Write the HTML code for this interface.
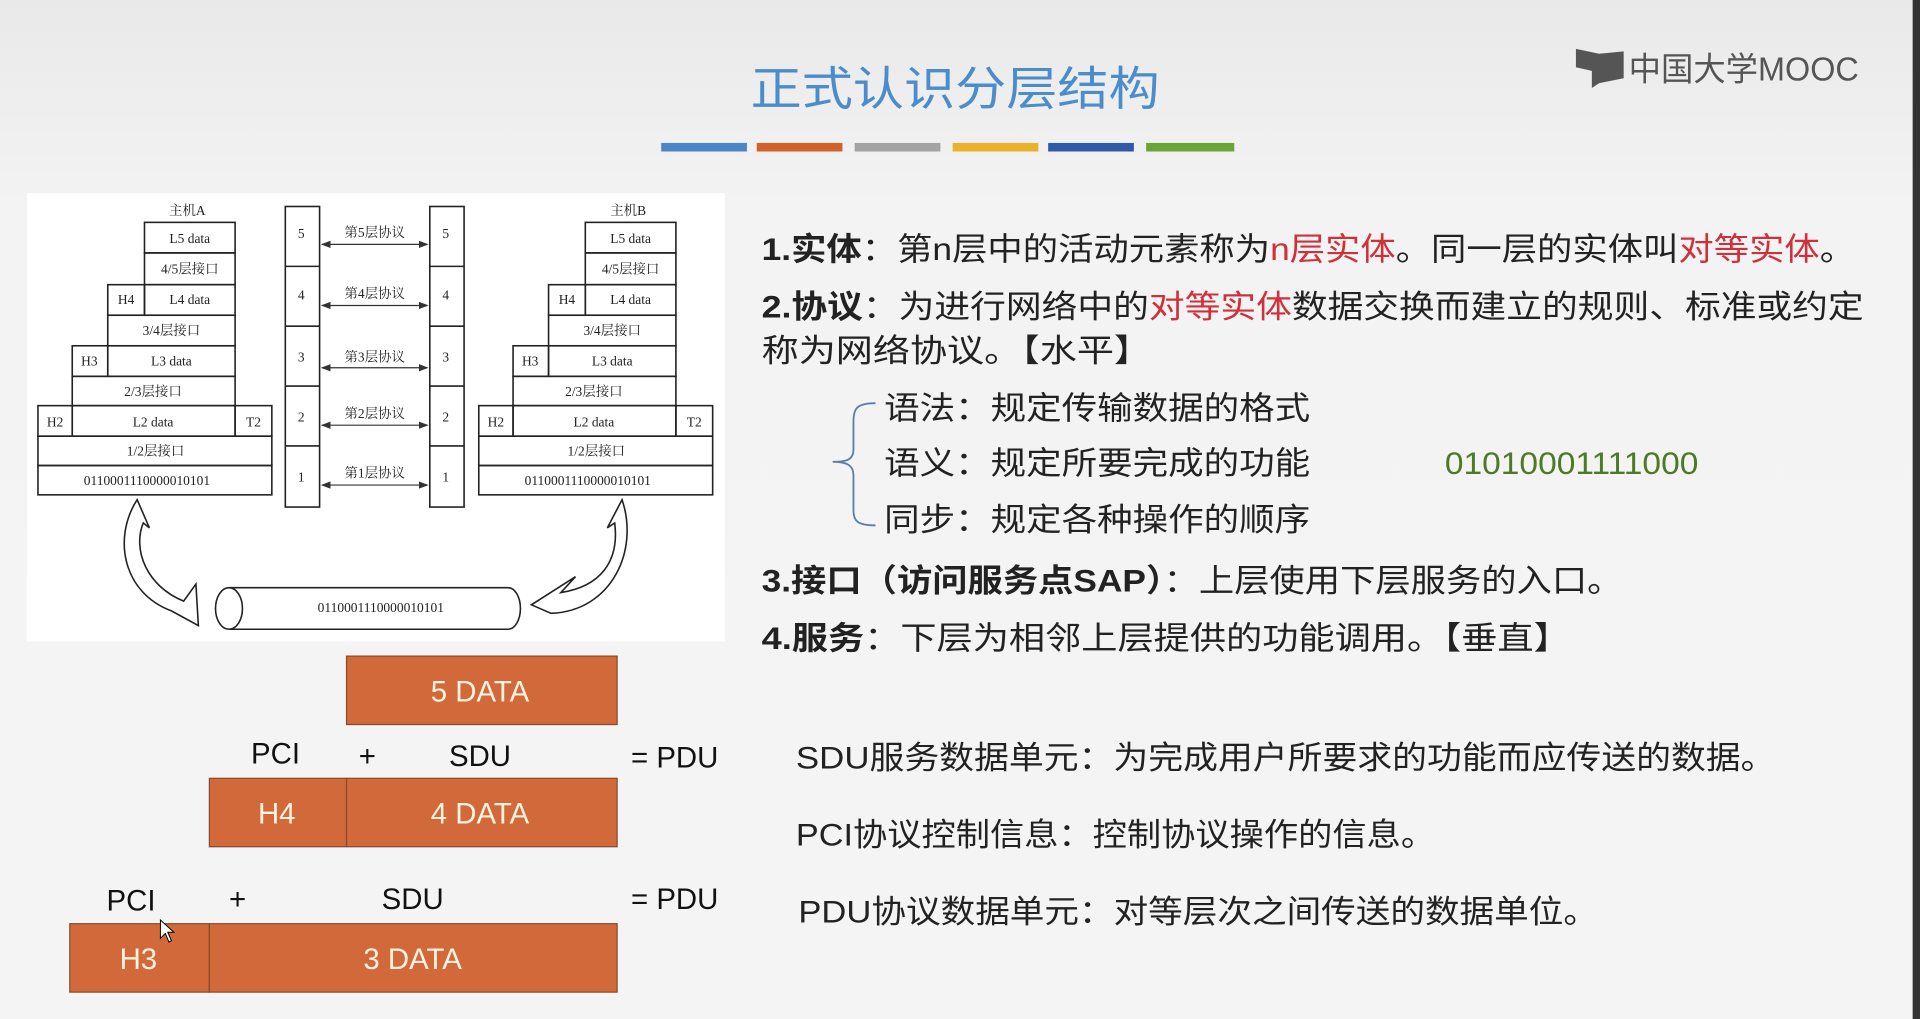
<!DOCTYPE html>
<html><head><meta charset="utf-8"><style>
html,body{margin:0;padding:0;width:1920px;height:1019px;overflow:hidden;background:#f1f1f1}
svg{display:block}
text{font-family:"Liberation Sans","Noto Sans CJK SC",sans-serif}
.s{font-family:"Liberation Serif","Noto Serif CJK SC",serif;font-size:11px;fill:#222}
</style></head><body>
<svg width="1920" height="1019" viewBox="0 0 1568 834" preserveAspectRatio="none" xmlns="http://www.w3.org/2000/svg">
<defs><linearGradient id="bg" x1="0" y1="0" x2="0" y2="1"><stop offset="0" stop-color="#e9e9e9"/><stop offset="0.2" stop-color="#f3f3f3"/><stop offset="1" stop-color="#f4f4f4"/></linearGradient>
<marker id="a" markerWidth="8" markerHeight="6" refX="7" refY="3" orient="auto-start-reverse"><path d="M0,0 L8,3 L0,6 z" fill="#333"/></marker></defs>
<rect width="1568" height="834" fill="url(#bg)"/>
<rect x="1562" y="0" width="6" height="834" fill="#333"/>
<!-- logo -->
<path d="M1287,40 L1306,44 L1326,42 L1326,64 L1306,68 L1300,72 L1300,58 L1287,55 z" fill="#555"/>
<text x="1330" y="66" font-size="27" fill="#555" textLength="188" lengthAdjust="spacingAndGlyphs">中国大学MOOC</text>
<!-- title -->
<text x="780" y="86" font-size="38" fill="#4b8ccb" text-anchor="middle" textLength="334" lengthAdjust="spacingAndGlyphs">正式认识分层结构</text>
<rect x="540" y="117" width="70" height="7" fill="#4a86c5"/>
<rect x="618" y="117" width="70" height="7" fill="#d0622a"/>
<rect x="698" y="117" width="70" height="7" fill="#a3a3a3"/>
<rect x="778" y="117" width="70" height="7" fill="#e8b32a"/>
<rect x="856" y="117" width="70" height="7" fill="#2f5aa5"/>
<rect x="936" y="117" width="72" height="7" fill="#6aa53a"/>
<!-- diagram -->
<rect x="22" y="158" width="570" height="367" fill="#fff"/>
<g fill="none" stroke="#222" stroke-width="1.3">
<g id="host">
<rect x="118" y="182" width="74" height="25"/><rect x="118" y="207" width="74" height="26"/>
<rect x="88" y="233" width="30" height="25"/><rect x="118" y="233" width="74" height="25"/>
<rect x="88" y="258" width="104" height="25"/>
<rect x="59" y="283" width="29" height="25"/><rect x="88" y="283" width="104" height="25"/>
<rect x="59" y="308" width="133" height="24"/>
<rect x="31" y="332" width="28" height="25"/><rect x="59" y="332" width="133" height="25"/><rect x="192" y="332" width="30" height="25"/>
<rect x="31" y="357" width="191" height="24"/><rect x="31" y="381" width="191" height="24"/>
</g>
<use href="#host" x="360"/>
<rect x="233" y="169" width="28" height="246"/><rect x="351" y="169" width="28" height="246"/>
<path d="M233,218H261M233,267H261M233,316H261M233,365H261M351,218H379M351,267H379M351,316H379M351,365H379"/>
</g>
<g stroke="#333" stroke-width="1" marker-start="url(#a)" marker-end="url(#a)">
<line x1="263" y1="200" x2="349" y2="200"/><line x1="263" y1="250" x2="349" y2="250"/><line x1="263" y1="301" x2="349" y2="301"/><line x1="263" y1="348" x2="349" y2="348"/><line x1="263" y1="397" x2="349" y2="397"/>
</g>
<g class="s" text-anchor="middle">
<text x="153" y="176" class="s">主机A</text><text x="513" y="176" class="s">主机B</text>
<g id="lab">
<text x="155" y="199" class="s">L5 data</text><text x="155" y="224" class="s">4/5层接口</text>
<text x="103" y="249" class="s">H4</text><text x="155" y="249" class="s">L4 data</text>
<text x="140" y="274" class="s">3/4层接口</text>
<text x="73" y="299" class="s">H3</text><text x="140" y="299" class="s">L3 data</text>
<text x="125" y="324" class="s">2/3层接口</text>
<text x="45" y="349" class="s">H2</text><text x="125" y="349" class="s">L2 data</text><text x="207" y="349" class="s">T2</text>
<text x="127" y="373" class="s">1/2层接口</text><text x="120" y="397" class="s">0110001110000010101</text>
</g>
<use href="#lab" x="360"/>
<text x="246" y="195" class="s">5</text><text x="364" y="195" class="s">5</text><text x="306" y="194" class="s">第5层协议</text>
<text x="246" y="245" class="s">4</text><text x="364" y="245" class="s">4</text><text x="306" y="244" class="s">第4层协议</text>
<text x="246" y="296" class="s">3</text><text x="364" y="296" class="s">3</text><text x="306" y="296" class="s">第3层协议</text>
<text x="246" y="345" class="s">2</text><text x="364" y="345" class="s">2</text><text x="306" y="342" class="s">第2层协议</text>
<text x="246" y="394" class="s">1</text><text x="364" y="394" class="s">1</text><text x="306" y="391" class="s">第1层协议</text>
</g>
<!-- cylinder -->
<path d="M187,481 H415 A10,17 0 0 1 415,515 H187" fill="#fff" stroke="#222" stroke-width="1.3"/>
<ellipse cx="187" cy="498" rx="11" ry="17" fill="#fff" stroke="#222" stroke-width="1.3"/>
<text x="311" y="501" class="s" text-anchor="middle">0110001110000010101</text>
<!-- curved arrows -->
<path d="M112,409 L122,432 L117,428 C108,450 120,480 150,492 L160,478 L162,512 L140,500 C100,485 92,440 112,409 z" fill="#fff" stroke="#222" stroke-width="1.3"/>
<path d="M508,409 L496,432 L502,428 C506,460 490,480 458,485 L470,472 L434,495 L450,502 C500,500 522,450 508,409 z" fill="#fff" stroke="#222" stroke-width="1.3"/>
<!-- orange boxes -->
<g fill="#d2693a" stroke="#8a4a2a" stroke-width="1">
<rect x="283" y="537" width="221" height="56"/>
<rect x="171" y="637" width="112" height="56"/><rect x="283" y="637" width="221" height="56"/>
<rect x="57" y="756" width="114" height="56"/><rect x="171" y="756" width="333" height="56"/>
</g>
<g font-size="24" fill="#fff3df" text-anchor="middle">
<text x="392" y="574">5 DATA</text><text x="226" y="674">H4</text><text x="392" y="674">4 DATA</text>
<text x="113" y="793">H3</text><text x="337" y="793">3 DATA</text>
</g>
<g font-size="24" fill="#111" text-anchor="middle">
<text x="225" y="625">PCI</text><text x="300" y="627">+</text><text x="392" y="627">SDU</text><text x="551" y="628">= PDU</text>
<text x="107" y="745">PCI</text><text x="194" y="744">+</text><text x="337" y="744">SDU</text><text x="551" y="744">= PDU</text>
</g>
<path d="M131,753 L131,768 L135,764 L138,771 L140,770 L137,763 L142,763 z" fill="#fff" stroke="#000" stroke-width="0.8"/>
<!-- right text -->
<g font-size="26" fill="#222">
<text x="622" y="213" textLength="893" lengthAdjust="spacingAndGlyphs"><tspan font-weight="bold">1.实体</tspan>：第n层中的活动元素称为<tspan fill="#d0303a">n层实体</tspan>。同一层的实体叫<tspan fill="#d0303a">对等实体</tspan>。</text>
<text x="622" y="260" textLength="900" lengthAdjust="spacingAndGlyphs"><tspan font-weight="bold">2.协议</tspan>：为进行网络中的<tspan fill="#d0303a">对等实体</tspan>数据交换而建立的规则、标准或约定</text>
<text x="622" y="296" textLength="318" lengthAdjust="spacingAndGlyphs">称为网络协议。【水平】</text>
<text x="722" y="343" textLength="348" lengthAdjust="spacingAndGlyphs">语法：规定传输数据的格式</text>
<text x="722" y="388" textLength="348" lengthAdjust="spacingAndGlyphs">语义：规定所要完成的功能</text>
<text x="722" y="434" textLength="348" lengthAdjust="spacingAndGlyphs">同步：规定各种操作的顺序</text>
<text x="1180" y="388" fill="#4d7a25" textLength="207" lengthAdjust="spacingAndGlyphs">01010001111000</text>
<text x="622" y="484" textLength="703" lengthAdjust="spacingAndGlyphs"><tspan font-weight="bold">3.接口（访问服务点SAP）</tspan>：上层使用下层服务的入口。</text>
<text x="622" y="531" textLength="660" lengthAdjust="spacingAndGlyphs"><tspan font-weight="bold">4.服务</tspan>：下层为相邻上层提供的功能调用。【垂直】</text>
<text x="650" y="629" textLength="800" lengthAdjust="spacingAndGlyphs">SDU服务数据单元：为完成用户所要求的功能而应传送的数据。</text>
<text x="650" y="692" textLength="522" lengthAdjust="spacingAndGlyphs">PCI协议控制信息：控制协议操作的信息。</text>
<text x="652" y="755" textLength="653" lengthAdjust="spacingAndGlyphs">PDU协议数据单元：对等层次之间传送的数据单位。</text>
</g>
<path d="M715,330 C700,330 697,334 697,345 L697,368 C697,376 692,378 680,378 C692,378 697,381 697,389 L697,418 C697,426 700,430 715,430" fill="none" stroke="#5a7fa8" stroke-width="1.5"/>
</svg>
</body></html>
